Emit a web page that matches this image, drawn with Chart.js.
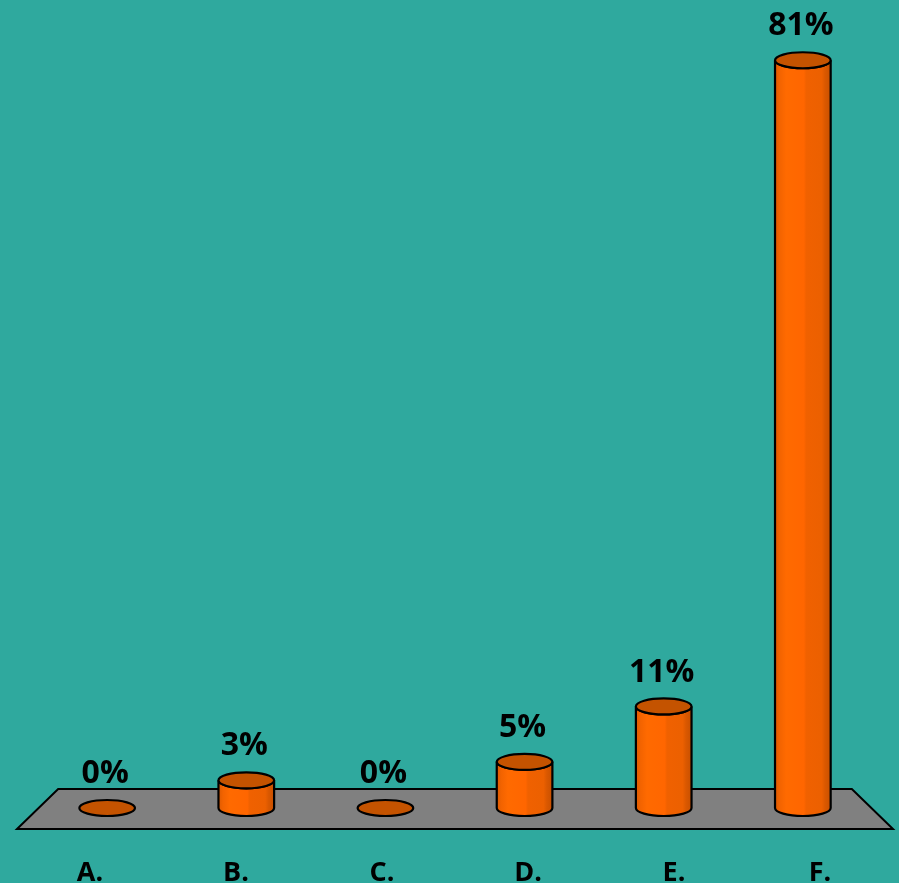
<!DOCTYPE html>
<html>
<head>
<meta charset="utf-8">
<script src="https://cdn.jsdelivr.net/npm/chart.js@4/dist/chart.umd.min.js"></script>
<style>
  html, body { margin: 0; padding: 0; background: #2FA99E; }
  canvas { display: block; }
</style>
</head>
<body>
<canvas id="poll" width="899" height="883"></canvas>
<script>
// Answer options and the share of responses for each (percent)
const categories = ['A.', 'B.', 'C.', 'D.', 'E.', 'F.'];
const responses = [0, 3, 0, 5, 11, 81];

// Perspective of the 3D floor: front edge spans the plot width,
// bars stand on the mid-depth line, the back edge is narrower still.
const MID_DEPTH = 0.953;
const BACK_DEPTH = 0.906;
const FLOOR_BACK = 19;   // px above the zero line
const FLOOR_FRONT = 21;  // px below the zero line
const CAP_RY = 8;

const cylinders = {
  id: 'cylinders',
  beforeDatasetsDraw(chart) {
    const { ctx, chartArea } = chart;
    const base = chart.scales.y.getPixelForValue(0);
    const cx = (chartArea.left + chartArea.right) / 2;
    const half = (chartArea.right - chartArea.left) / 2;
    ctx.save();
    ctx.beginPath();
    ctx.moveTo(cx - half * BACK_DEPTH, base - FLOOR_BACK);
    ctx.lineTo(cx + half * BACK_DEPTH, base - FLOOR_BACK);
    ctx.lineTo(cx + half, base + FLOOR_FRONT);
    ctx.lineTo(cx - half, base + FLOOR_FRONT);
    ctx.closePath();
    ctx.fillStyle = '#808080';
    ctx.fill();
    ctx.lineWidth = 2;
    ctx.strokeStyle = '#000';
    ctx.stroke();
    ctx.restore();
  },
  afterDatasetsDraw(chart) {
    const { ctx, chartArea } = chart;
    const cx = (chartArea.left + chartArea.right) / 2;
    const meta = chart.getDatasetMeta(0);
    const values = chart.data.datasets[0].data;
    ctx.save();
    meta.data.forEach((el, i) => {
      const x = cx + (el.x - cx) * MID_DEPTH;
      const rx = el.width * MID_DEPTH / 2;
      const yTop = el.y;
      const yBase = el.base;
      ctx.lineWidth = 2.2;
      ctx.strokeStyle = '#000';
      if (yBase - yTop > 1) {
        const g = ctx.createLinearGradient(x - rx, 0, x + rx, 0);
        g.addColorStop(0, '#DD5A00');
        g.addColorStop(0.08, '#F26300');
        g.addColorStop(0.2, '#FF6A00');
        g.addColorStop(0.52, '#FF6600');
        g.addColorStop(0.56, '#F06100');
        g.addColorStop(0.84, '#EC6000');
        g.addColorStop(0.9, '#DA5800');
        g.addColorStop(1, '#C85000');
        ctx.beginPath();
        ctx.moveTo(x - rx, yTop);
        ctx.lineTo(x - rx, yBase);
        ctx.ellipse(x, yBase, rx, CAP_RY, 0, Math.PI, 0, true);
        ctx.lineTo(x + rx, yTop);
        ctx.ellipse(x, yTop, rx, CAP_RY, 0, 0, Math.PI, false);
        ctx.closePath();
        ctx.fillStyle = g;
        ctx.fill();
        ctx.stroke();
      }
      ctx.beginPath();
      ctx.ellipse(x, yTop, rx, CAP_RY, 0, 0, Math.PI * 2);
      ctx.fillStyle = '#C45300';
      ctx.fill();
      ctx.stroke();

      ctx.fillStyle = '#000';
      ctx.font = 'bold 32px "Open Sans", sans-serif';
      ctx.textAlign = 'center';
      ctx.textBaseline = 'middle';
      ctx.fillText(values[i] + '%', x - 2, yTop - 34);
    });
    ctx.restore();
  }
};

new Chart(document.getElementById('poll'), {
  type: 'bar',
  data: {
    labels: categories,
    datasets: [{
      data: responses,
      backgroundColor: 'rgba(0,0,0,0)',
      borderWidth: 0,
      categoryPercentage: 1,
      barPercentage: 0.4
    }]
  },
  options: {
    responsive: false,
    animation: false,
    layout: { padding: { left: 17, right: 6, top: 51, bottom: 0 } },
    plugins: { legend: { display: false }, tooltip: { enabled: false } },
    scales: {
      x: {
        grid: { display: false },
        border: { display: false },
        ticks: {
          color: '#000',
          padding: 41,
          font: { family: '"Open Sans", sans-serif', size: 27, weight: 'bold' }
        },
        afterFit(scale) { scale.height = 75; }
      },
      y: {
        display: false,
        min: 0,
        max: 82
      }
    }
  },
  plugins: [cylinders]
});
</script>
</body>
</html>
